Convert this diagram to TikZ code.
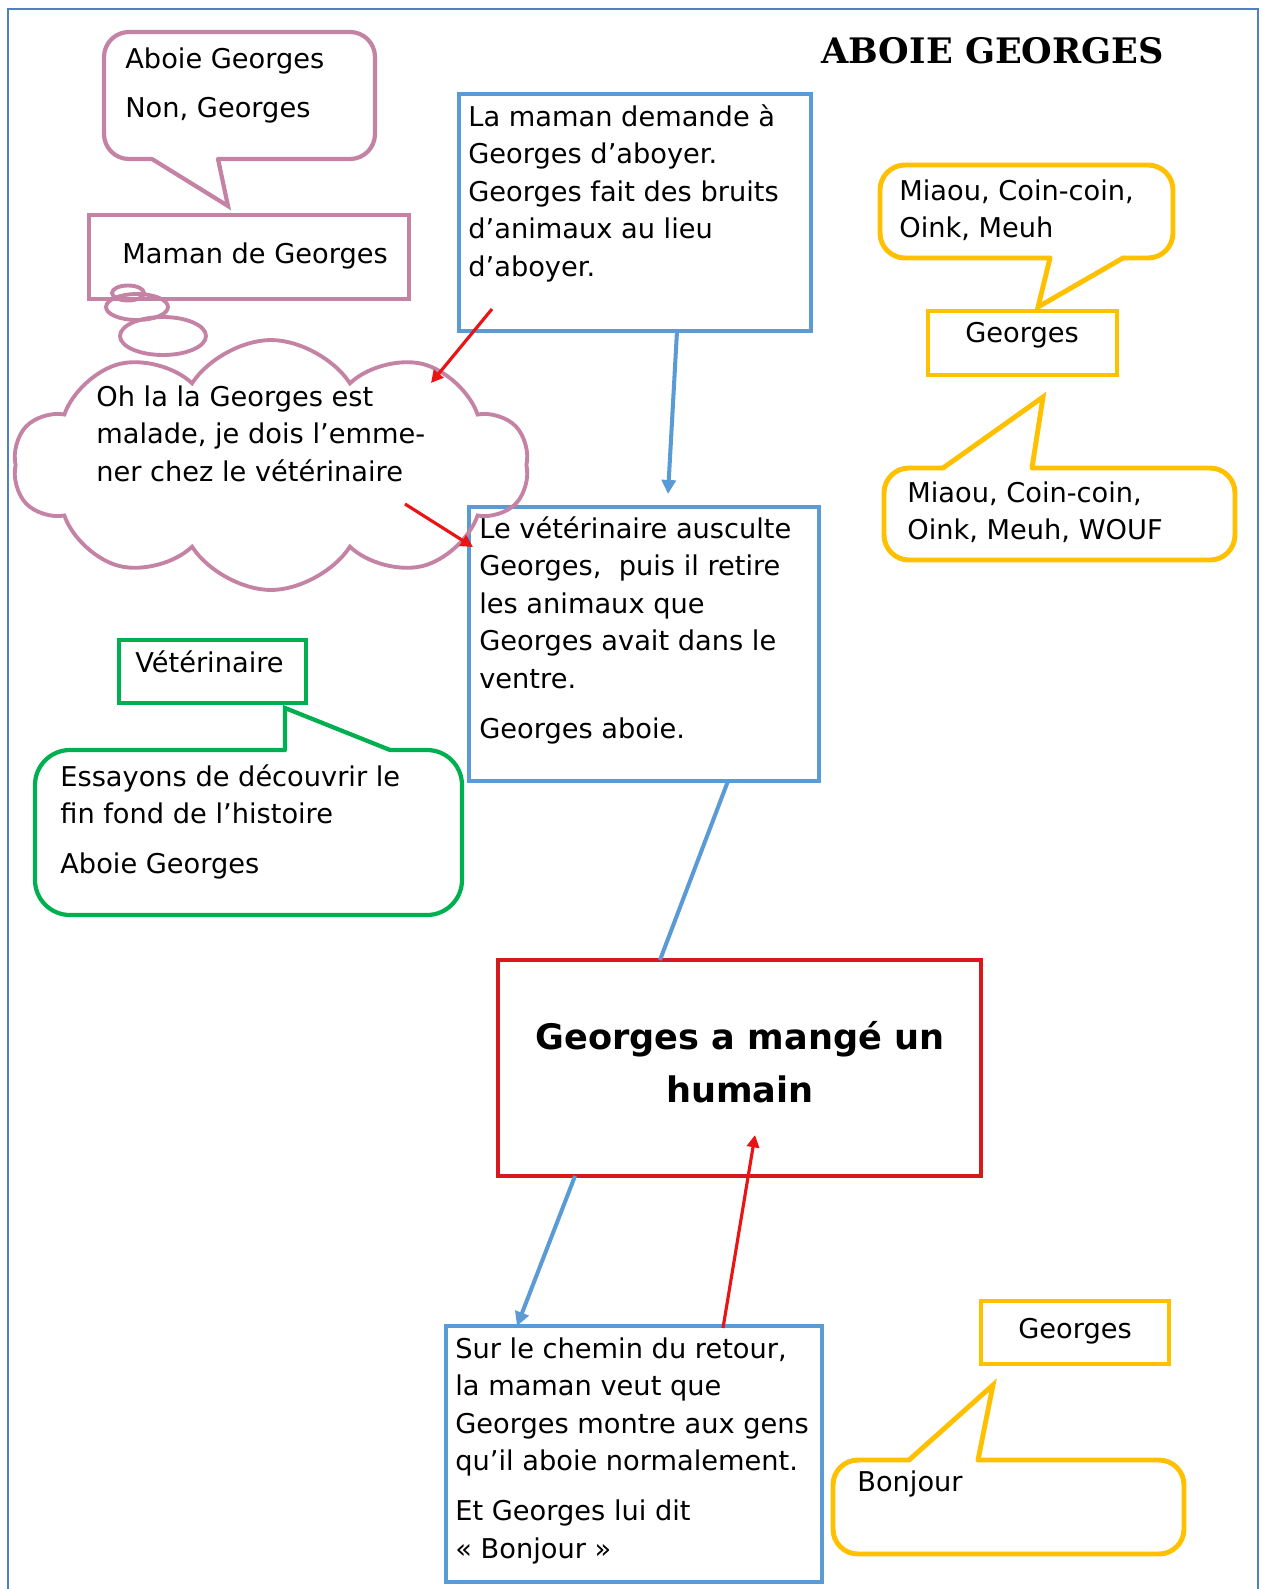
\documentclass[tikz,border=0pt]{standalone}
\usepackage{fontspec}
\setmainfont{DejaVu Sans}
\newfontfamily\titlefont{DejaVu Serif}
\usetikzlibrary{arrows.meta,shapes.symbols,fit}

\definecolor{pagebleu}{RGB}{79,129,189}
\definecolor{bleu}{RGB}{91,155,213}
\definecolor{rose}{RGB}{196,130,165}
\definecolor{jaune}{RGB}{255,192,0}
\definecolor{vert}{RGB}{0,176,80}
\definecolor{rouge}{RGB}{215,25,30}
\definecolor{fleche}{RGB}{235,20,20}

\begin{document}
\begin{tikzpicture}[x=0.02cm, y=-0.02cm,
    cadre/.style={draw=#1, line width=2.5pt, inner sep=0pt},
    bulle/.style={draw=#1, fill=white, line width=2.4pt, rounded corners=0.5cm, inner sep=0pt},
    queue/.style={line width=2.4pt, line cap=round},
    txt/.style={inner sep=0pt, align=left, font=\fontsize{15.5}{21.4}\selectfont},
    barr/.style={-{Triangle[length=8pt,width=8pt]}, bleu, line width=2.3pt},
    rarr/.style={-{Triangle[length=7pt,width=7pt]}, fleche, line width=1.8pt}
]
\useasboundingbox (0,0) rectangle (1262,1589);
\draw[pagebleu, line width=1.3pt] (8,1589) -- (8,9) -- (1258,9) -- (1258,1589);

\node[anchor=base west, inner sep=0pt, font=\titlefont\bfseries\fontsize{20}{24}\selectfont] (titre) at (821,63) {ABOIE GEORGES};

% boites
\node[cadre=bleu, fit={(459,94) (811,331)}] (demande) {};
\node[cadre=bleu, fit={(469,507) (819,781)}] (ausculte) {};
\node[cadre=rouge, line width=2pt, fit={(498,960) (981,1176)}] (humain) {};
\node[cadre=bleu, fit={(446,1326) (822,1582)}] (retour) {};
\node[cadre=rose, fit={(89,215) (409,299)}] (maman) {};
\node[cadre=vert, fit={(119,640) (306,703)}] (veto) {};
\node[cadre=jaune, line width=2.8pt, fit={(928,311) (1117,375)}] (georgesA) {};
\node[cadre=jaune, line width=2.8pt, fit={(981,1301) (1169,1364)}] (georgesB) {};

% bulles
\node[bulle=rose, fit={(104,32) (375,159)}] (bulleM) {};
\fill[white] (152,150) -- (218,150) -- (218,159) -- (228,206) -- (152,159) -- cycle;
\draw[queue, rose] (152,159) -- (228,206) -- (218,159);

\node[bulle=vert, rounded corners=0.7cm, fit={(35,750) (462,915)}] (bulleV) {};
\fill[white] (285,758) -- (390,758) -- (390,750) -- (285,708) -- cycle;
\draw[queue, vert] (285,750) -- (285,708) -- (390,750);

\node[bulle=jaune, line width=2.8pt, fit={(880,165) (1173,258)}] (bulleG1) {};
\fill[white] (1050,250) -- (1123,250) -- (1123,258) -- (1038,307) -- (1050,258) -- cycle;
\draw[queue, jaune, line width=2.8pt] (1050,258) -- (1038,307) -- (1123,258);

\node[bulle=jaune, line width=2.8pt, fit={(884,468) (1235,560)}] (bulleG2) {};
\fill[white] (943,476) -- (1032,476) -- (1032,468) -- (1043,397) -- (943,468) -- cycle;
\draw[queue, jaune, line width=2.8pt] (943,468) -- (1043,397) -- (1032,468);

\node[bulle=jaune, line width=2.8pt, fit={(833,1460) (1184,1554)}] (bulleG3) {};
\fill[white] (909,1468) -- (978,1468) -- (978,1460) -- (993,1385) -- (909,1460) -- cycle;
\draw[queue, jaune, line width=2.8pt] (909,1460) -- (993,1385) -- (978,1460);

% pensee
\draw[rose, line width=2.2pt] (128,293) ellipse [x radius=0.32cm, y radius=0.15cm];
\draw[rose, line width=2.2pt] (137,307) ellipse [x radius=0.62cm, y radius=0.26cm];
\draw[rose, line width=2.2pt] (163,336) ellipse [x radius=0.86cm, y radius=0.38cm];
\node[cloud, draw=rose, line width=2.2pt, cloud puffs=10, cloud puff arc=115, aspect=2.1,
      minimum width=10.3cm, minimum height=5cm, inner sep=0pt] (nuage) at (271,465) {};

% textes
\node[txt, anchor=north west] (t-bulleM) at (125,47) {Aboie Georges\\[7pt]Non, Georges};
\node[txt, anchor=base west] (t-maman) at (122,263) {Maman de Georges};
\node[txt, anchor=north west] (t-nuage) at (96,385) {Oh la la Georges est\\malade, je dois l’emme-\\ner chez le vétérinaire};
\node[txt, anchor=north west] (t-demande) at (468,104) {La maman demande à\\Georges d’aboyer.\\Georges fait des bruits\\d’animaux au lieu\\d’aboyer.};
\node[txt, anchor=base] (t-georgesA) at (1022,342) {Georges};
\node[txt, anchor=north west] (t-bulleG1) at (899,179) {Miaou, Coin-coin,\\Oink, Meuh};
\node[txt, anchor=north west] (t-bulleG2) at (907,481) {Miaou, Coin-coin,\\Oink, Meuh, WOUF};
\node[txt, anchor=north west] (t-ausculte) at (479,516) {Le vétérinaire ausculte\\Georges,\ \ puis il retire\\les animaux que\\Georges avait dans le\\ventre.\\[7pt]Georges aboie.};
\node[txt, anchor=base west] (t-veto) at (135,672) {Vétérinaire};
\node[txt, anchor=north west] (t-bulleV) at (60,764) {Essayons de découvrir le\\fin fond de l’histoire\\[7pt]Aboie Georges};
\node[align=center, inner sep=0pt, font=\bfseries\fontsize{20}{30}\selectfont] (t-humain) at (740,1062) {Georges a mangé un\\humain};
\node[txt, anchor=north west] (t-retour) at (455,1337) {Sur le chemin du retour,\\la maman veut que\\Georges montre aux gens\\qu’il aboie normalement.\\[7pt]Et Georges lui dit\\« Bonjour »};
\node[txt, anchor=base] (t-georgesB) at (1075,1338) {Georges};
\node[txt, anchor=base west] (t-bulleG3) at (857,1491) {Bonjour};

% fleches
\coordinate (r1a) at (492,309);
\coordinate (r1b) at (431,383);
\coordinate (b1a) at (677,331);
\coordinate (b1b) at (668,494);
\coordinate (r2a) at (405,504);
\coordinate (r2b) at (473,547);
\coordinate (b2a) at (728,781);
\coordinate (b2b) at (660,960);
\coordinate (b3a) at (575,1176);
\coordinate (b3b) at (517,1326);
\coordinate (r3a) at (723,1328);
\coordinate (r3b) at (755,1135);
\draw[rarr] (r1a) -- (r1b);
\draw[barr] (b1a) -- (b1b);
\draw[rarr] (r2a) -- (r2b);
\draw[bleu, line width=2.3pt] (b2a) -- (b2b);
\draw[barr] (b3a) -- (b3b);
\draw[rarr] (r3a) -- (r3b);
\end{tikzpicture}
\end{document}
